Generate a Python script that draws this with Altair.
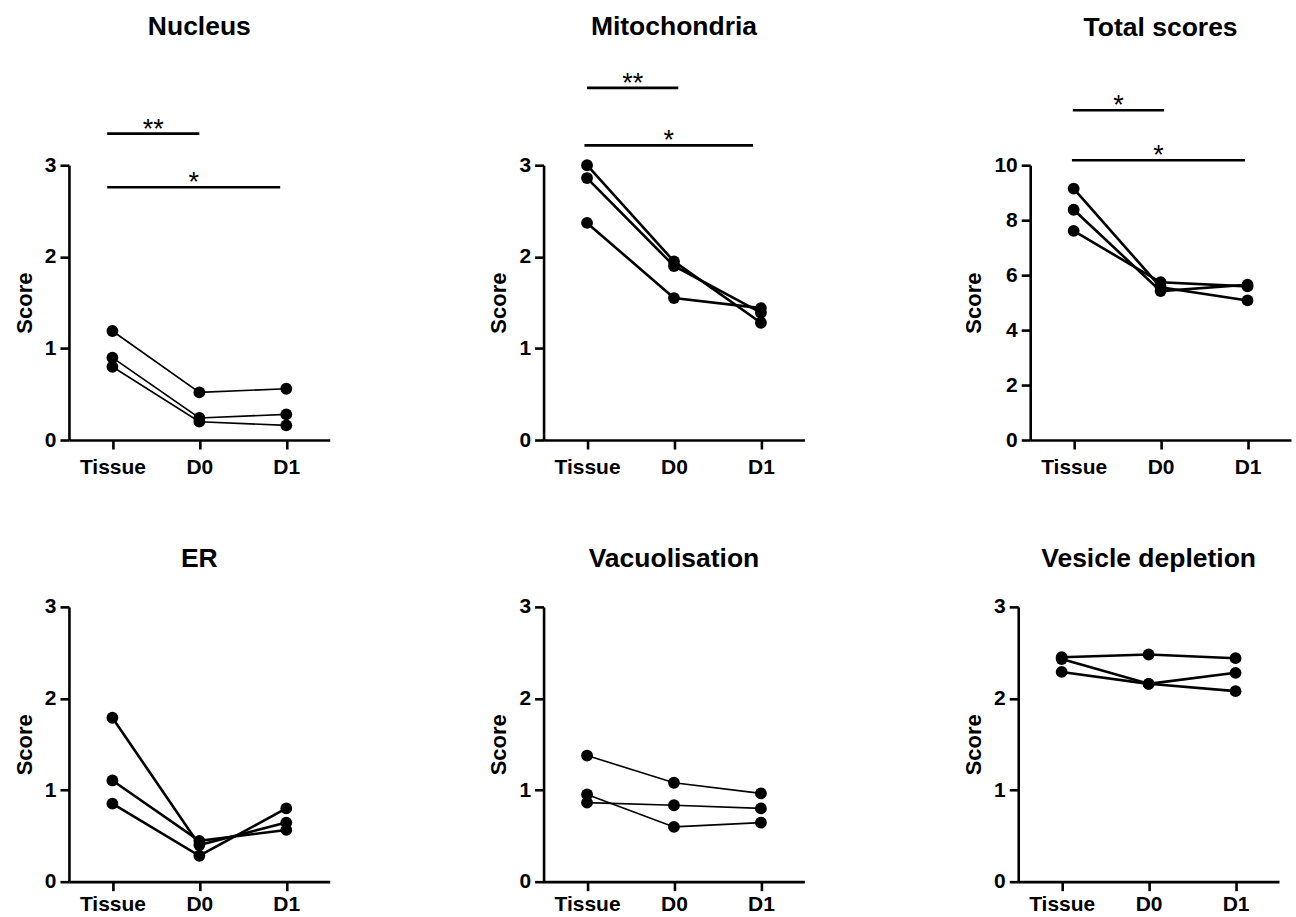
import altair as alt
import pandas as pd

FONT = "Liberation Sans"

stages = ["Tissue", "D0", "D1"]
stage_idx = [0, 1, 2]

# ---- values (three samples per panel) ----
nucleus_a = [1.19, 0.52, 0.56]
nucleus_b = [0.90, 0.24, 0.28]
nucleus_c = [0.80, 0.20, 0.16]

mito_a = [3.00, 1.95, 1.28]
mito_b = [2.86, 1.90, 1.39]
mito_c = [2.37, 1.55, 1.44]

total_a = [9.15, 5.56, 5.08]
total_b = [8.38, 5.42, 5.65]
total_c = [7.61, 5.74, 5.59]

er_a = [1.79, 0.40, 0.645]
er_b = [1.105, 0.446, 0.565]
er_c = [0.852, 0.283, 0.80]

vac_a = [1.377, 1.08, 0.964]
vac_b = [0.953, 0.598, 0.645]
vac_c = [0.863, 0.834, 0.80]

ves_a = [2.45, 2.48, 2.44]
ves_b = [2.43, 2.16, 2.08]
ves_c = [2.29, 2.16, 2.28]

# significance brackets: start index, end index, height, label
nucleus_sig_start = [-0.06, -0.06]
nucleus_sig_end = [1.0, 1.93]
nucleus_sig_y = [3.345, 2.76]
nucleus_sig_label = ["**", "*"]

mito_sig_start = [0.0, -0.03]
mito_sig_end = [1.05, 1.91]
mito_sig_y = [3.845, 3.217]
mito_sig_label = ["**", "*"]

total_sig_start = [-0.01, -0.02]
total_sig_end = [1.04, 1.97]
total_sig_y = [12.0, 10.18]
total_sig_label = ["*", "*"]

label_expr = "[" + ",".join("'" + s + "'" for s in stages) + "][datum.value]"

W, H = 261, 275


def panel(title, series, ymax, ystep, line_w, title_offset, xpad, sig=None):
    rows = []
    for k, vals in enumerate(series):
        for i, v in zip(stage_idx, vals):
            rows.append({"subject": k, "stage": i, "score": v})
    df = pd.DataFrame(rows)

    x = alt.X(
        "stage:Q",
        scale=alt.Scale(domain=[-0.5, 2.5], nice=False, zero=False),
        axis=alt.Axis(title=None, values=stage_idx, labelExpr=label_expr, labelPadding=xpad),
    )
    y = alt.Y(
        "score:Q",
        scale=alt.Scale(domain=[0, ymax], nice=False, zero=True),
        axis=alt.Axis(title="Score", values=list(range(0, ymax + 1, ystep)), format="d"),
    )
    lines = alt.Chart(df).mark_line(color="black", strokeWidth=line_w).encode(
        x=x, y=y, detail="subject:N"
    )
    pts = alt.Chart(df).mark_circle(color="black", size=140, opacity=1).encode(x=x, y=y)
    layers = [lines, pts]
    if sig is not None:
        st, en, hy, lab = sig
        sdf = pd.DataFrame(
            {
                "stage": st,
                "stage_end": en,
                "score": hy,
                "mid": [(a + b) / 2 for a, b in zip(st, en)],
                "label": lab,
            }
        )
        rules = alt.Chart(sdf).mark_rule(color="black", strokeWidth=2.6).encode(
            x="stage:Q", x2="stage_end:Q", y="score:Q"
        )
        stars = alt.Chart(sdf).mark_text(
            font=FONT, fontSize=27, color="black", baseline="alphabetic", dy=4
        ).encode(x="mid:Q", y="score:Q", text="label:N")
        layers += [rules, stars]
    return alt.layer(*layers).properties(
        width=W,
        height=H,
        title=alt.TitleParams(
            title,
            font=FONT,
            fontSize=26.5,
            fontWeight="bold",
            color="black",
            anchor="middle",
            frame="group",
            offset=title_offset,
        ),
    )


p1 = panel("Nucleus", [nucleus_a, nucleus_b, nucleus_c], 3, 1, 1.6, 75, 8,
           (nucleus_sig_start, nucleus_sig_end, nucleus_sig_y, nucleus_sig_label))
p2 = panel("Mitochondria", [mito_a, mito_b, mito_c], 3, 1, 2.6, 29, 8,
           (mito_sig_start, mito_sig_end, mito_sig_y, mito_sig_label))
p3 = panel("Total scores", [total_a, total_b, total_c], 10, 2, 2.6, 51, 8,
           (total_sig_start, total_sig_end, total_sig_y, total_sig_label))
p4 = panel("ER", [er_a, er_b, er_c], 3, 1, 2.6, 23, 3)
p5 = panel("Vacuolisation", [vac_a, vac_b, vac_c], 3, 1, 1.6, 23, 3)
p6 = panel("Vesicle depletion", [ves_a, ves_b, ves_c], 3, 1, 2.6, 23, 3)

chart = (
    alt.vconcat(
        alt.hconcat(p1, p2, p3, spacing=158),
        alt.hconcat(p4, p5, p6, spacing=158),
        spacing=68,
    )
    .properties(padding={"left": 13, "top": 13, "right": 5, "bottom": 0}, background="white")
    .configure_view(stroke=None)
    .configure_axis(
        grid=False,
        domainColor="black",
        domainWidth=2.6,
        tickColor="black",
        tickWidth=2.6,
        tickSize=9,
        labelFont=FONT,
        labelFontSize=21,
        labelFontWeight="bold",
        labelColor="black",
        labelPadding=4,
        titleFont=FONT,
        titleFontSize=22,
        titleFontWeight="bold",
        titleColor="black",
        titlePadding=8,
    )
)

chart.save("out.html", embed_options={"renderer": "svg", "actions": False})
